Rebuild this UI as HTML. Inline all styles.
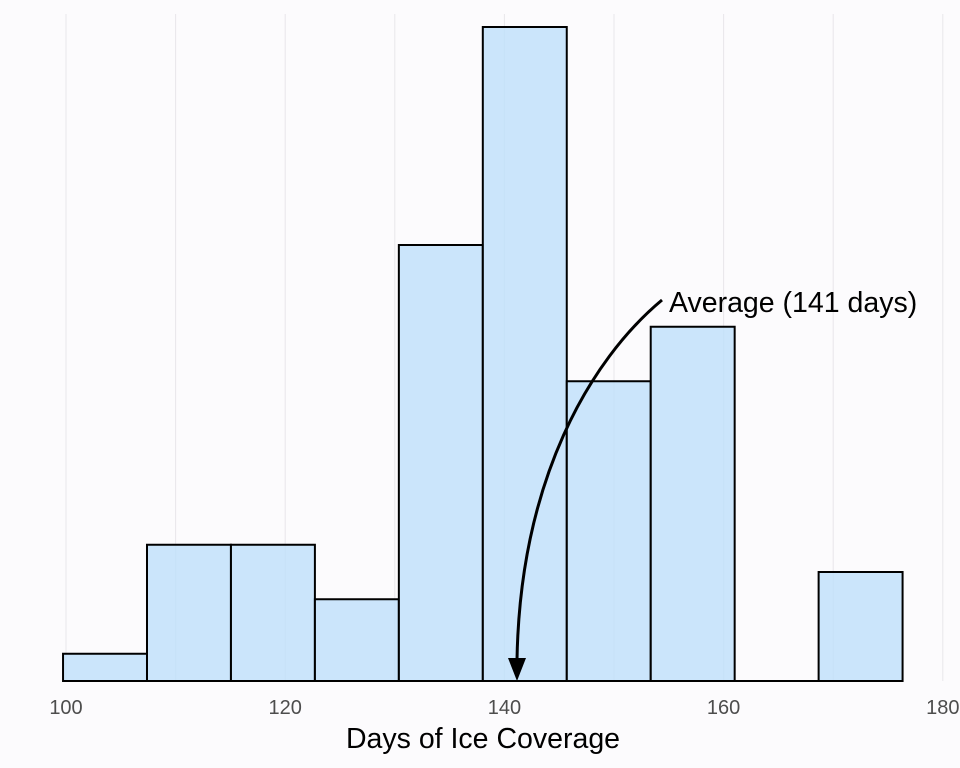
<!DOCTYPE html>
<html><head><meta charset="utf-8"><style>
html,body{margin:0;padding:0;background:#fcfbfd;}
svg{display:block;font-family:"Liberation Sans",sans-serif;}
</style></head><body>
<svg id="chart" width="960" height="768">
<rect width="960" height="768" fill="#fcfbfd"/>
<g id="grid"></g><g id="bars"></g><g id="ticks"></g>
<text x="483" y="748" text-anchor="middle" font-size="28.5" fill="#000">Days of Ice Coverage</text>
<path d="M662,300 C590,360 520,480 517,660" fill="none" stroke="#000" stroke-width="3"/>
<polygon points="508,658 526,658 517,681" fill="#000"/>
<text x="669" y="312" font-size="28.5" fill="#000">Average (141 days)</text>
</svg>
<script>
const binStart = 99.73;
const binWidth = 7.66;
const counts = [1,5,5,3,16,24,11,13,0,4];
const tickValues = [100,120,140,160,180];
const gridValues = [100,110,120,130,140,150,160,170,180];
const NS="http://www.w3.org/2000/svg";
const xs = v => 66 + (v-100)*10.96;
const ys = c => 681 - c*27.25;
const grid=document.getElementById('grid'), bars=document.getElementById('bars'), ticks=document.getElementById('ticks');
gridValues.forEach(v=>{
  const l=document.createElementNS(NS,'line');
  l.setAttribute('x1',xs(v));l.setAttribute('x2',xs(v));l.setAttribute('y1',14);l.setAttribute('y2',681);
  l.setAttribute('stroke','#e8e7ea');l.setAttribute('stroke-width',1);
  
  
  grid.appendChild(l);
});
counts.forEach((c,i)=>{
  if(c<=0) return;
  const x0=xs(binStart+i*binWidth), x1=xs(binStart+(i+1)*binWidth);
  const r=document.createElementNS(NS,'rect');
  r.setAttribute('x',x0);r.setAttribute('y',ys(c));r.setAttribute('width',x1-x0);r.setAttribute('height',ys(0)-ys(c));
  r.setAttribute('fill','rgba(190,224,250,0.8)');r.setAttribute('stroke','#000');r.setAttribute('stroke-width',2);
  
  
  bars.appendChild(r);
});
const base=document.createElementNS(NS,'line');
base.setAttribute('x1',xs(binStart));base.setAttribute('x2',xs(binStart+counts.length*binWidth));
base.setAttribute('y1',681);base.setAttribute('y2',681);base.setAttribute('stroke','#000');base.setAttribute('stroke-width',2);


bars.appendChild(base);
tickValues.forEach(v=>{
  const t=document.createElementNS(NS,'text');
  t.setAttribute('x',xs(v));t.setAttribute('y',714);t.setAttribute('text-anchor','middle');
  t.setAttribute('font-size',20);t.setAttribute('fill','#4d4d4d');
  t.textContent=v;
  
  
  ticks.appendChild(t);
});
</script>
</body></html>
